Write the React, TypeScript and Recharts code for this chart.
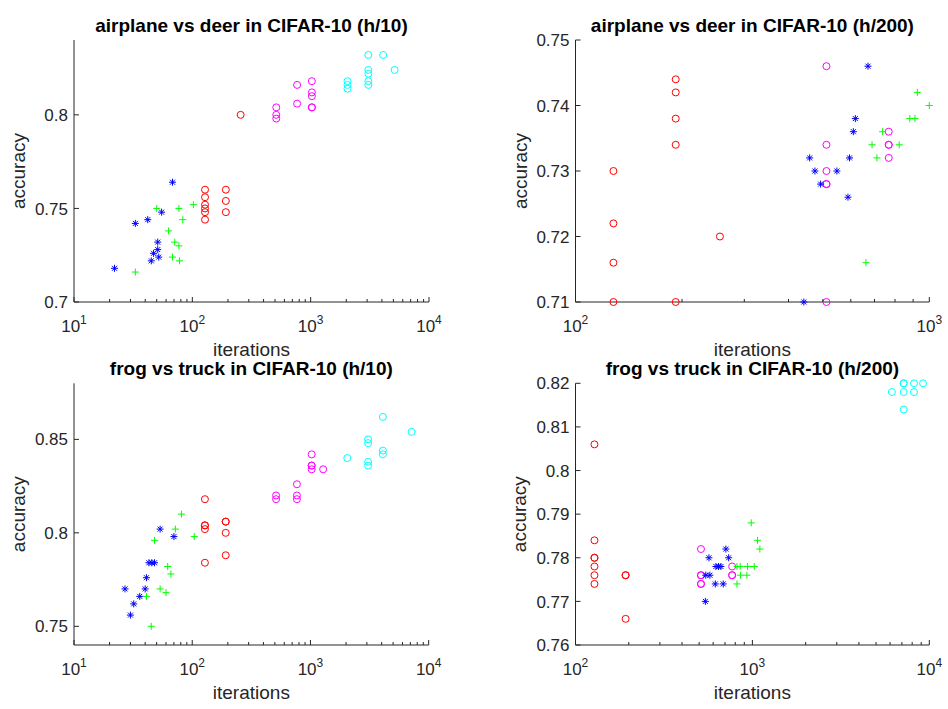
import { ScatterChart, Scatter, XAxis, YAxis } from 'recharts';

// airplane vs deer, h/10
const adH10Blue = [[22, 0.718], [33, 0.742], [42, 0.744], [68, 0.764], [55, 0.748], [51, 0.732], [51, 0.728], [47, 0.726], [52, 0.724], [45, 0.722]];
const adH10Green = [[33, 0.716], [50, 0.75], [77, 0.75], [102, 0.752], [83, 0.744], [63, 0.738], [71, 0.732], [77, 0.73], [68, 0.724], [78, 0.722]];
const adH10Red = [[128, 0.76], [128, 0.756], [128, 0.752], [128, 0.75], [128, 0.748], [128, 0.744], [192, 0.76], [192, 0.754], [192, 0.748], [256, 0.8]];
const adH10Magenta = [[512, 0.804], [512, 0.8], [512, 0.798], [768, 0.816], [768, 0.806], [1024, 0.818], [1024, 0.812], [1024, 0.81], [1024, 0.804], [1024, 0.804]];
const adH10Cyan = [[2048, 0.818], [2048, 0.816], [2048, 0.814], [3072, 0.832], [3072, 0.824], [3072, 0.822], [3072, 0.818], [3072, 0.816], [4096, 0.832], [5120, 0.824]];

// airplane vs deer, h/200
const adH200Red = [[128, 0.73], [128, 0.722], [128, 0.716], [128, 0.71], [192, 0.744], [192, 0.742], [192, 0.738], [192, 0.734], [192, 0.71], [256, 0.72]];
const adH200Magenta = [[512, 0.746], [512, 0.734], [512, 0.73], [512, 0.728], [512, 0.728], [512, 0.71], [768, 0.736], [768, 0.734], [768, 0.734], [768, 0.732]];
const adH200Blue = [[442, 0.71], [459, 0.732], [475, 0.73], [493, 0.728], [548, 0.73], [589, 0.726], [595, 0.732], [610, 0.736], [618, 0.738], [671, 0.746]];
const adH200Green = [[662, 0.716], [689, 0.734], [711, 0.732], [738, 0.736], [822, 0.734], [881, 0.738], [911, 0.738], [925, 0.742], [1000, 0.74]];
const adH200Cyan: number[][] = [];

// frog vs truck, h/10
const ftH10Blue = [[27, 0.77], [30, 0.756], [32, 0.762], [36, 0.766], [40, 0.77], [41, 0.776], [43, 0.784], [45.5, 0.784], [48, 0.784], [53.5, 0.802], [70, 0.798]];
const ftH10Green = [[45, 0.75], [41, 0.766], [53.5, 0.77], [60, 0.768], [66, 0.778], [62, 0.782], [48, 0.796], [72, 0.802], [81, 0.81], [104, 0.798]];
const ftH10Red = [[128, 0.818], [128, 0.804], [128, 0.804], [128, 0.802], [128, 0.784], [192, 0.806], [192, 0.806], [192, 0.8], [192, 0.788]];
const ftH10Magenta = [[512, 0.82], [512, 0.818], [768, 0.826], [768, 0.82], [768, 0.818], [1024, 0.842], [1024, 0.836], [1024, 0.836], [1024, 0.834], [1280, 0.834]];
const ftH10Cyan = [[2048, 0.84], [3072, 0.85], [3072, 0.848], [3072, 0.838], [3072, 0.836], [4096, 0.862], [4096, 0.844], [4096, 0.842], [7168, 0.854]];

// frog vs truck, h/200
const ftH200Red = [[128, 0.806], [128, 0.784], [128, 0.78], [128, 0.78], [128, 0.778], [128, 0.776], [128, 0.774], [192, 0.776], [192, 0.776], [192, 0.766]];
const ftH200Magenta = [[512, 0.782], [512, 0.776], [512, 0.776], [512, 0.774], [512, 0.774], [768, 0.778], [768, 0.776], [768, 0.776]];
const ftH200Blue = [[542, 0.77], [545, 0.776], [568, 0.78], [575, 0.776], [617, 0.774], [622, 0.778], [644, 0.778], [664, 0.778], [684, 0.774], [708, 0.782], [734, 0.78]];
const ftH200Green = [[818, 0.774], [818, 0.778], [853, 0.778], [856, 0.776], [931, 0.776], [939, 0.778], [1024, 0.778], [985, 0.788], [1069, 0.784], [1102, 0.782]];
const ftH200Cyan = [[6144, 0.818], [7168, 0.82], [7168, 0.82], [7168, 0.818], [7168, 0.814], [8192, 0.82], [8192, 0.818], [9216, 0.82]];

const ticks10to1e4 = [10, 20, 30, 40, 50, 60, 70, 80, 90, 100, 200, 300, 400, 500, 600, 700, 800, 900, 1000, 2000, 3000, 4000, 5000, 6000, 7000, 8000, 9000, 10000];
const ticks100to1e3 = [100, 200, 300, 400, 500, 600, 700, 800, 900, 1000];
const ticks100to1e4 = [100, 200, 300, 400, 500, 600, 700, 800, 900, 1000, 2000, 3000, 4000, 5000, 6000, 7000, 8000, 9000, 10000];

const FONT = '"Liberation Sans", Arial, Helvetica, sans-serif';
const AX = '#262626';

const toPts = (a: number[][]) => a.map(([x, y]) => ({ x, y }));

const circle = (color: string) => (p: any) => (
  <circle cx={p.cx} cy={p.cy} r={3.5} fill="none" stroke={color} strokeWidth={1} />
);

const plus = (p: any) => (
  <g stroke="#00ff00" strokeWidth={1}>
    <line x1={p.cx - 3.5} x2={p.cx + 3.5} y1={p.cy} y2={p.cy} />
    <line x1={p.cx} x2={p.cx} y1={p.cy - 3.5} y2={p.cy + 3.5} />
  </g>
);

const star = (p: any) => {
  const r = 3.5;
  const d = 2.5;
  return (
    <g stroke="#0000ff" strokeWidth={1}>
      <line x1={p.cx - r} x2={p.cx + r} y1={p.cy} y2={p.cy} />
      <line x1={p.cx} x2={p.cx} y1={p.cy - r} y2={p.cy + r} />
      <line x1={p.cx - d} x2={p.cx + d} y1={p.cy - d} y2={p.cy + d} />
      <line x1={p.cx - d} x2={p.cx + d} y1={p.cy + d} y2={p.cy - d} />
    </g>
  );
};

const LogTick = (p: any) => {
  const v = p.payload.value;
  const e = Math.log10(v);
  const major = Math.abs(e - Math.round(e)) < 1e-6;
  return (
    <g>
      <line x1={p.x} x2={p.x} y1={p.y} y2={p.y - (major ? 5 : 3)} stroke={AX} />
      {major && (
        <text x={p.x} y={p.y + 30} textAnchor="middle" fontSize={17} fill={AX} fontFamily={FONT}>
          10<tspan dy={-8} fontSize={12}>{Math.round(e)}</tspan>
        </text>
      )}
    </g>
  );
};

const YTick = (p: any) => (
  <g>
    <line x1={p.x} x2={p.x + 5} y1={p.y} y2={p.y} stroke={AX} />
    <text x={p.x - 6} y={p.y} dy="0.36em" textAnchor="end" fontSize={17} fill={AX} fontFamily={FONT}>
      {String(Number(p.payload.value.toFixed(3)))}
    </text>
  </g>
);

const panels = [
  {
    title: 'airplane vs deer in CIFAR-10 (h/10)',
    left: 0, top: 0, h: 354, plotL: 74, plotR: 429, plotT: 40, plotB: 302,
    xDomain: [10, 10000], xTicks: ticks10to1e4,
    yDomain: [0.7, 0.84], yTicks: [0.7, 0.75, 0.8],
    red: adH10Red, magenta: adH10Magenta, cyan: adH10Cyan, blue: adH10Blue, green: adH10Green,
  },
  {
    title: 'airplane vs deer in CIFAR-10 (h/200)',
    left: 474, top: 0, h: 354, plotL: 575.5, plotR: 929.3, plotT: 40, plotB: 302,
    xDomain: [100, 1000], xTicks: ticks100to1e3,
    yDomain: [0.71, 0.75], yTicks: [0.71, 0.72, 0.73, 0.74, 0.75],
    red: adH200Red, magenta: adH200Magenta, cyan: adH200Cyan, blue: adH200Blue, green: adH200Green,
  },
  {
    title: 'frog vs truck in CIFAR-10 (h/10)',
    left: 0, top: 354, h: 355, plotL: 74, plotR: 428.7, plotT: 383.3, plotB: 645,
    xDomain: [10, 10000], xTicks: ticks10to1e4,
    yDomain: [0.74, 0.88], yTicks: [0.75, 0.8, 0.85],
    red: ftH10Red, magenta: ftH10Magenta, cyan: ftH10Cyan, blue: ftH10Blue, green: ftH10Green,
  },
  {
    title: 'frog vs truck in CIFAR-10 (h/200)',
    left: 474, top: 354, h: 355, plotL: 575.5, plotR: 929.3, plotT: 383.3, plotB: 645,
    xDomain: [100, 10000], xTicks: ticks100to1e4,
    yDomain: [0.76, 0.82], yTicks: [0.76, 0.77, 0.78, 0.79, 0.8, 0.81, 0.82],
    red: ftH200Red, magenta: ftH200Magenta, cyan: ftH200Cyan, blue: ftH200Blue, green: ftH200Green,
  },
];

function Panel({ p }: { p: (typeof panels)[number] }) {
  const w = 474;
  return (
    <div style={{ position: 'absolute', left: p.left, top: p.top, width: w, height: p.h }}>
      <ScatterChart
        width={w}
        height={p.h}
        margin={{ top: p.plotT - p.top, right: p.left + w - p.plotR, bottom: 0, left: 0 }}
      >
        <XAxis
          dataKey="x"
          type="number"
          scale="log"
          domain={p.xDomain}
          ticks={p.xTicks}
          interval={0}
          height={p.top + p.h - p.plotB}
          tickSize={0}
          tickMargin={0}
          tickLine={false}
          axisLine={{ stroke: AX }}
          tick={LogTick}
        />
        <YAxis
          dataKey="y"
          type="number"
          domain={p.yDomain}
          ticks={p.yTicks}
          interval={0}
          width={p.plotL - p.left}
          tickSize={0}
          tickMargin={0}
          tickLine={false}
          axisLine={{ stroke: AX }}
          tick={YTick}
        />
        <Scatter data={toPts(p.red)} shape={circle('#ff0000')} isAnimationActive={false} />
        <Scatter data={toPts(p.magenta)} shape={circle('#ff00ff')} isAnimationActive={false} />
        <Scatter data={toPts(p.cyan)} shape={circle('#00ffff')} isAnimationActive={false} />
        <Scatter data={toPts(p.blue)} shape={star} isAnimationActive={false} />
        <Scatter data={toPts(p.green)} shape={plus} isAnimationActive={false} />
      </ScatterChart>
    </div>
  );
}

export default function App() {
  return (
    <div style={{ position: 'absolute', left: 0, top: 0, width: 948, height: 709, background: '#fff', fontFamily: FONT }}>
      {panels.map((p) => (
        <Panel key={p.title} p={p} />
      ))}
      <svg width={948} height={709} style={{ position: 'absolute', left: 0, top: 0, pointerEvents: 'none' }}>
        {panels.map((p) => {
          const cx = (p.plotL + p.plotR) / 2;
          const cy = (p.plotT + p.plotB) / 2;
          return (
            <g key={p.title} fontFamily={FONT}>
              <text x={cx} y={p.plotT - 8} textAnchor="middle" fontSize={19} fontWeight="bold" fill="#000">
                {p.title}
              </text>
              <text x={cx} y={p.plotB + 54} textAnchor="middle" fontSize={19} fill={AX}>
                iterations
              </text>
              <text
                x={p.plotL - 49}
                y={cy}
                textAnchor="middle"
                fontSize={19}
                fill={AX}
                transform={`rotate(-90 ${p.plotL - 49} ${cy})`}
              >
                accuracy
              </text>
            </g>
          );
        })}
      </svg>
    </div>
  );
}
